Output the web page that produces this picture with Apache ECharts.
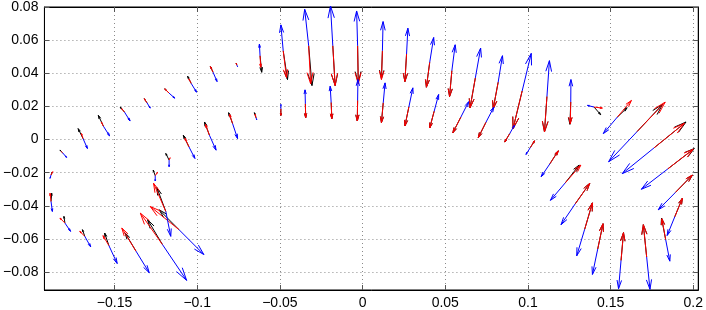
<!DOCTYPE html>
<html><head><meta charset="utf-8">
<script src="https://cdn.jsdelivr.net/npm/echarts@6/dist/echarts.min.js"></script>
<style>html,body{margin:0;padding:0;background:#fff}#c{width:706px;height:310px}</style>
</head><body><div id="c"></div>
<script>
const xTicks = [-0.15, -0.1, -0.05, 0, 0.05, 0.1, 0.15, 0.2];
const yTicks = [-0.08, -0.06, -0.04, -0.02, 0, 0.02, 0.04, 0.06, 0.08];

// arrow base points
const xs = [-0.1884,-0.1884,-0.1800,-0.1680,-0.1534,-0.1370,-0.1210,-0.1110,-0.1190,-0.1254,-0.1170,
  -0.1814,-0.1690,-0.1567,-0.1440,-0.1304,-0.1170,-0.1036,-0.0904,-0.0760,
  -0.0620,-0.0480,-0.0326,-0.0180,-0.0030,0.0120,0.0266,0.0406,0.0540,0.0682,0.0820,0.0965,0.1115,0.1259,0.1400,
  -0.1050,-0.0926,-0.0786,-0.0644,-0.0494,-0.0346,-0.0190,-0.0030,0.0125,0.0280,0.0433,0.0594,0.0746,0.0890,0.1014,0.1133,
  0.1226,0.1286,0.1343,0.1422,0.1563,0.1718,0.1833,0.1888,0.1892,0.1846,0.1763,0.1660,0.1541];
const ys = [-0.0214,-0.0374,-0.0504,-0.0584,-0.0640,-0.0674,-0.0634,-0.0544,-0.0434,-0.0218,-0.0124,
  -0.0080,0.0005,0.0080,0.0166,0.0222,0.0280,0.0338,0.0406,0.0449,
  0.0506,0.0536,0.0566,0.0566,0.0566,0.0536,0.0516,0.0466,0.0416,0.0372,0.0346,0.0293,0.0260,0.0227,0.0196,
  -0.0044,0.0026,0.0096,0.0131,0.0186,0.0216,0.0224,0.0236,0.0222,0.0197,0.0171,0.0135,0.0104,0.0036,-0.0049,-0.0146,
  -0.0261,-0.0388,-0.0542,-0.0661,-0.0730,-0.0709,-0.0604,-0.0466,-0.0319,-0.0177,-0.0050,0.0048,0.0136];

// black vectors
const uK = [0.0008,0.0004,-0.0006,-0.0014,-0.0026,-0.0066,-0.0090,-0.0120,-0.0054,-0.0012,-0.0020,
  -0.0016,-0.0030,-0.0031,-0.0026,-0.0016,-0.0026,-0.0022,-0.0016,-0.0004,
  0.0010,0.0026,0.0020,0.0014,0.0004,-0.0006,-0.0010,-0.0020,-0.0014,-0.0032,-0.0030,-0.0055,-0.0015,-0.0005,0.0040,
  -0.0034,-0.0030,-0.0024,-0.0010,0.0000,0.0002,0.0004,-0.0002,-0.0011,-0.0024,-0.0027,-0.0048,-0.0046,-0.0030,0.0026,0.0050,
  0.0084,0.0088,0.0047,0.0032,0.0015,-0.0020,-0.0025,0.0046,0.0103,0.0160,0.0193,0.0154,0.0059];
const vK = [0.0018,0.0050,0.0040,0.0040,0.0076,0.0110,0.0150,0.0120,0.0144,0.0034,0.0040,
  0.0016,0.0061,0.0066,0.0030,0.0024,0.0026,0.0044,0.0034,0.0011,
  -0.0100,-0.0174,-0.0240,-0.0240,-0.0222,-0.0168,-0.0166,-0.0150,-0.0156,-0.0180,-0.0160,-0.0227,-0.0214,-0.0135,-0.0046,
  0.0070,0.0080,0.0066,0.0031,-0.0040,-0.0084,-0.0098,-0.0124,-0.0120,-0.0115,-0.0101,-0.0094,-0.0092,-0.0050,0.0041,0.0078,
  0.0107,0.0124,0.0160,0.0153,0.0168,0.0195,0.0130,0.0112,0.0105,0.0123,0.0156,0.0164,0.0056];

// red vectors
const uR = [0.0010,-0.0006,-0.0030,-0.0030,-0.0036,-0.0086,-0.0134,-0.0174,-0.0074,0.0014,0.0006,
  -0.0006,-0.0010,-0.0013,-0.0016,-0.0016,-0.0026,-0.0014,-0.0016,-0.0004,
  0.0004,0.0020,0.0012,0.0014,0.0004,-0.0006,-0.0010,-0.0020,-0.0014,-0.0032,-0.0030,-0.0055,-0.0015,-0.0003,0.0050,
  -0.0024,-0.0024,-0.0018,-0.0006,0.0000,0.0002,0.0004,-0.0002,-0.0011,-0.0024,-0.0027,-0.0048,-0.0046,-0.0030,0.0026,0.0051,
  0.0094,0.0088,0.0047,0.0032,0.0015,-0.0020,-0.0023,0.0046,0.0102,0.0154,0.0183,0.0170,0.0085];
const vR = [0.0020,0.0050,0.0030,0.0030,0.0060,0.0140,0.0190,0.0140,0.0170,0.0020,0.0014,
  0.0006,0.0031,0.0026,0.0020,0.0024,0.0026,0.0028,0.0034,0.0011,
  -0.0070,-0.0162,-0.0230,-0.0240,-0.0230,-0.0174,-0.0166,-0.0150,-0.0156,-0.0180,-0.0160,-0.0227,-0.0214,-0.0131,-0.0006,
  0.0052,0.0066,0.0056,0.0021,-0.0040,-0.0084,-0.0098,-0.0124,-0.0120,-0.0115,-0.0101,-0.0094,-0.0092,-0.0050,0.0041,0.0078,
  0.0107,0.0124,0.0160,0.0153,0.0168,0.0195,0.0126,0.0112,0.0105,0.0119,0.0148,0.0178,0.0100];

// blue vectors
const uB = [-0.0006,0.0008,0.0034,0.0036,0.0050,0.0080,0.0146,0.0150,0.0030,0.0000,0.0000,
  0.0024,0.0026,0.0037,0.0034,0.0020,0.0034,0.0032,0.0024,0.0004,
  -0.0004,-0.0014,-0.0024,-0.0014,-0.0006,0.0004,0.0008,0.0024,0.0020,0.0032,0.0026,0.0055,0.0015,0.0001,-0.0040,
  0.0036,0.0040,0.0030,0.0004,0.0000,-0.0002,-0.0006,0.0002,0.0011,0.0024,0.0027,0.0048,0.0048,0.0028,-0.0026,-0.0053,
  -0.0090,-0.0086,-0.0048,-0.0032,-0.0015,0.0020,0.0025,-0.0046,-0.0104,-0.0160,-0.0193,-0.0172,-0.0085];
const vB = [-0.0020,-0.0060,-0.0050,-0.0064,-0.0108,-0.0130,-0.0216,-0.0150,-0.0150,-0.0032,-0.0040,
  -0.0028,-0.0059,-0.0058,-0.0054,-0.0032,-0.0030,-0.0052,-0.0056,-0.0009,
  0.0070,0.0156,0.0220,0.0240,0.0210,0.0176,0.0156,0.0150,0.0156,0.0180,0.0160,0.0227,0.0216,0.0135,0.0010,
  -0.0070,-0.0090,-0.0090,-0.0012,0.0026,0.0084,0.0098,0.0126,0.0120,0.0115,0.0101,0.0094,0.0092,0.0050,-0.0041,-0.0078,
  -0.0106,-0.0126,-0.0160,-0.0153,-0.0170,-0.0195,-0.0130,-0.0113,-0.0105,-0.0123,-0.0156,-0.0182,-0.0100];

function build(u, v) { return xs.map((x, i) => [x, ys[i], u[i], v[i]]); }

function arrowRender(color) {
  return function (params, api) {
    const x = api.value(0), y = api.value(1), u = api.value(2), v = api.value(3);
    const p0 = api.coord([x, y]), p1 = api.coord([x + u, y + v]);
    const dx = p1[0] - p0[0], dy = p1[1] - p0[1];
    const L = Math.hypot(dx, dy);
    if (L < 0.5) return null;
    const ux = dx / L, uy = dy / L;
    const hl = 0.3 * L, hw = 0.08 * L;
    const bx = p1[0] - ux * hl, by = p1[1] - uy * hl;
    const h1 = [bx - uy * hw, by + ux * hw], h2 = [bx + uy * hw, by - ux * hw];
    return {
      type: 'group', children: [
        { type: 'line', shape: { x1: p0[0], y1: p0[1], x2: p1[0], y2: p1[1] }, style: { stroke: color, lineWidth: 1 } },
        { type: 'polyline', shape: { points: [h1, p1, h2] }, style: { stroke: color, fill: null, lineWidth: 1 } }
      ]
    };
  };
}

function fmt(val) {
  if (Math.abs(val) < 1e-9) return '0';
  return (val < 0 ? '\u2212' : '') + String(+Math.abs(val).toFixed(4));
}

const XMIN = -0.1924, XMAX = 0.203, YMIN = -0.0908, YMAX = 0.08;
const labelStyle = { color: '#000', fontSize: 14, fontFamily: 'Liberation Sans, Arial, sans-serif' };
const gridLine = { show: true, lineStyle: { color: '#8a8a8a', type: [1, 3], width: 1 } };

const chart = echarts.init(document.getElementById('c'), null, { renderer: 'canvas' });
chart.setOption({
  animation: false,
  backgroundColor: '#fff',
  grid: { left: 41, right: 6, top: 5, bottom: 19, show: true, borderColor: '#000', borderWidth: 1, containLabel: false },
  xAxis: [
    { type: 'value', min: XMIN, max: XMAX, position: 'bottom',
      axisLine: { onZero: false, lineStyle: { color: '#000' } },
      axisTick: { inside: true, length: 5, customValues: xTicks, lineStyle: { color: '#555' } },
      axisLabel: Object.assign({ customValues: xTicks, formatter: fmt, margin: 6, showMinLabel: true, showMaxLabel: true }, labelStyle),
      splitLine: gridLine },
    { type: 'value', min: XMIN, max: XMAX, position: 'top',
      axisLine: { onZero: false, lineStyle: { color: '#000' } },
      axisTick: { inside: true, length: 5, customValues: xTicks, lineStyle: { color: '#555' } },
      axisLabel: { show: false }, splitLine: { show: false } }
  ],
  yAxis: [
    { type: 'value', min: YMIN, max: YMAX, position: 'left',
      axisLine: { onZero: false, lineStyle: { color: '#000' } },
      axisTick: { inside: true, length: 5, customValues: yTicks, lineStyle: { color: '#555' } },
      axisLabel: Object.assign({ customValues: yTicks, formatter: fmt, margin: 6, showMinLabel: true, showMaxLabel: true }, labelStyle),
      splitLine: gridLine },
    { type: 'value', min: YMIN, max: YMAX, position: 'right',
      axisLine: { onZero: false, lineStyle: { color: '#000' } },
      axisTick: { inside: true, length: 5, customValues: yTicks, lineStyle: { color: '#555' } },
      axisLabel: { show: false }, splitLine: { show: false } }
  ],
  series: [
    { type: 'custom', name: 'black', renderItem: arrowRender('#000000'), data: build(uK, vK), encode: { x: 0, y: 1 }, clip: false, z: 2 },
    { type: 'custom', name: 'red', renderItem: arrowRender('#ff0000'), data: build(uR, vR), encode: { x: 0, y: 1 }, clip: false, z: 3 },
    { type: 'custom', name: 'blue', renderItem: arrowRender('#0000ff'), data: build(uB, vB), encode: { x: 0, y: 1 }, clip: false, z: 4 }
  ]
});
</script>
</body></html>
